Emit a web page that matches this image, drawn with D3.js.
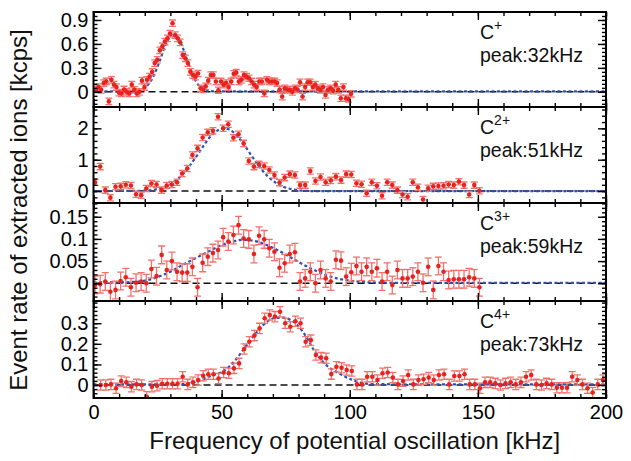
<!DOCTYPE html>
<html>
<head>
<meta charset="utf-8">
<title>Event rate of extracted ions</title>
<script src="https://d3js.org/d3.v7.min.js"></script>
<style>
body { margin: 0; background: #fff; }
svg { display: block; font-family: "Liberation Sans", Arial, sans-serif; }
</style>
</head>
<body>
<svg id="chart" width="631" height="461"></svg>
<script>
// ---- data ----
const xTicks = [0, 50, 100, 150, 200];

// C+  (scan 1 .. 100.5 kHz)
const ion1 = '+', peak1 = 32;
const start1 = 1, step1 = 0.995, err1 = 0.04;
const rate1 = [0.03,0.06,0.025,0.11,0.13,-0.12,0.15,0.09,0.06,-0.01,
  -0.02,0.03,0.0,-0.02,0.09,0.025,-0.02,0.0,0.14,0.06,
  0.15,0.19,0.25,0.36,0.40,0.52,0.57,0.63,0.67,0.73,
  0.86,0.71,0.67,0.62,0.46,0.42,0.36,0.25,0.21,0.19,
  0.23,0.045,0.03,0.07,0.14,0.21,0.21,0.13,0.02,0.13,
  0.09,0.11,0.06,0.13,0.225,0.24,0.13,0.15,0.21,0.19,
  0.17,0.13,0.09,0.06,0.13,0.13,-0.02,0.15,0.13,0.13,
  0.13,0.11,0.03,-0.06,0.045,0.03,0.025,0.0,0.045,0.03,
  0.12,-0.06,0.06,0.12,0.12,0.06,0.09,0.045,0.025,0.06,
  -0.04,0.025,0.045,0.015,0.09,0.025,-0.08,0.06,-0.08,-0.09,-0.025];
const fitF1 = [0, 14, 18, 20, 22, 24, 26, 28, 30, 31, 32, 34, 36, 38, 40, 42, 44, 48, 200];
const fitV1 = [0.005, 0.005, 0.02, 0.05, 0.12, 0.24, 0.40, 0.58, 0.70, 0.73, 0.72, 0.62, 0.45, 0.27, 0.13, 0.05, 0.015, 0.005, 0.005];
const yDomain1 = [-0.19, 1.0];
const yTicks1 = [0, 0.3, 0.6, 0.9];

// C2+
const ion2 = '2+', peak2 = 51;
const start2 = 0.6, step2 = 2, err2 = 0.1;
const rate2 = [0.28,0.78,0.03,-0.21,0.14,0.15,0.2,0.18,-0.1,-0.13,
  0.08,0.24,0.21,0.03,0.18,0.21,0.28,0.56,0.72,1.15,
  1.36,1.71,1.87,1.92,2.37,2.0,2.13,1.7,1.81,1.52,
  0.96,0.78,0.85,0.8,0.67,0.51,0.27,0.43,0.54,0.51,
  0.19,0.19,0.64,0.32,0.45,0.28,0.34,0.46,0.35,0.54,
  0.53,0.25,0.22,-0.07,0.28,0.17,-0.15,0.28,0.19,0.03,
  -0.11,-0.18,0.28,0.12,-0.27,0.09,0.15,0.16,0.17,0.21,
  0.19,0.3,0.19,-0.11,0.19,0.01];
const fitF2 = [0, 20, 24, 28, 31, 34, 37, 40, 43, 46, 49, 51, 53, 56, 59, 62, 65, 68, 71, 74, 78, 82, 86, 200];
const fitV2 = [0, 0.01, 0.05, 0.14, 0.27, 0.47, 0.75, 1.09, 1.45, 1.77, 1.96, 2.0, 1.96, 1.77, 1.45, 1.09, 0.75, 0.47, 0.27, 0.14, 0.05, 0.01, 0, 0];
const yDomain2 = [-0.38, 2.68];
const yTicks2 = [0, 1, 2];

// C3+
const ion3 = '3+', peak3 = 59;
const start3 = 0.6, step3 = 2, err3 = 0.02;
const rate3 = [-0.004,-0.002,0.004,-0.019,-0.015,0.005,0.0135,-0.009,0.001,0.004,
  0.0,0.032,0.016,0.064,0.03,0.05,0.026,0.024,0.024,0.037,
  -0.009,0.046,0.06,0.068,0.075,0.104,0.094,0.109,0.131,0.101,
  0.099,0.066,0.107,0.099,0.079,0.071,0.035,0.045,0.066,0.07,
  0.004,0.011,0.026,0.0,0.03,0.011,0.004,0.053,0.051,0.015,
  0.025,0.039,0.026,0.037,0.026,0.034,0.004,0.026,-0.004,0.03,
  0.011,0.011,0.015,0.026,0.001,0.037,-0.015,0.039,0.026,0.0075,
  0.009,0.009,0.009,0.0135,0.011,-0.009];
const fitF3 = [0, 10, 15, 20, 25, 30, 35, 40, 45, 50, 55, 58, 61, 65, 70, 75, 80, 85, 90, 95, 100, 108, 120, 200];
const fitV3 = [0.002, 0.002, 0.003, 0.006, 0.014, 0.026, 0.042, 0.057, 0.072, 0.086, 0.095, 0.098, 0.097, 0.092, 0.080, 0.065, 0.048, 0.033, 0.020, 0.011, 0.006, 0.002, 0.001, 0.001];
const yDomain3 = [-0.04, 0.181];
const yTicks3 = [0, 0.05, 0.1, 0.15];

// C4+
const ion4 = '4+', peak4 = 73;
const start4 = 2.8, step4 = 2, err4 = 0.025;
const rate4 = [0,0,0.003,-0.016,0.019,0.013,-0.008,0.003,0,-0.057,
  -0.008,-0.003,0.006,0.006,0.006,0.006,0.04,0.003,0.013,0.024,
  0.045,0.052,0.052,0.032,0.061,0.057,0.081,0.105,0.175,0.21,
  0.24,0.275,0.324,0.34,0.332,0.356,0.3,0.283,0.31,0.3,
  0.21,0.218,0.146,0.133,0.13,0.053,0.089,0.084,0.073,0.068,0.003,
  0.003,0.04,0.04,0.024,0.057,0.061,0.036,0.003,0.019,0.049,
  0.003,0.024,0.028,0.036,0.024,0.049,0.052,0.003,0.044,0.044,
  0.052,0.003,0.003,-0.016,0.013,0.013,0.008,0,0.008,0.013,
  0.003,0.013,0.04,0.049,0.003,0,0.008,0.003,-0.013,-0.013,
  -0.013,0.04,0.024,0.003,-0.016,-0.036,0.003,0.024];
const fitF4 = [0, 34, 38, 42, 46, 50, 53, 56, 59, 62, 65, 68, 71, 74, 77, 80, 83, 86, 89, 92, 96, 100, 104, 110, 200];
const fitV4 = [0.003, 0.004, 0.01, 0.025, 0.045, 0.063, 0.09, 0.13, 0.18, 0.23, 0.275, 0.31, 0.326, 0.327, 0.315, 0.285, 0.235, 0.17, 0.12, 0.085, 0.055, 0.03, 0.012, 0.004, 0.003];
const yDomain4 = [-0.063, 0.408];
const yTicks4 = [0, 0.1, 0.2, 0.3];

// ---- layout ----
const left = 93.5, right = 606;
const edges = [12, 107, 203, 301, 398];
const minorStep = [0.05, 0.2, 0.01, 0.02];

const panels = [
  {ion: ion1, peak: peak1, start: start1, step: step1, err: err1, rate: rate1, fitF: fitF1, fitV: fitV1, dom: yDomain1, ticks: yTicks1},
  {ion: ion2, peak: peak2, start: start2, step: step2, err: err2, rate: rate2, fitF: fitF2, fitV: fitV2, dom: yDomain2, ticks: yTicks2},
  {ion: ion3, peak: peak3, start: start3, step: step3, err: err3, rate: rate3, fitF: fitF3, fitV: fitV3, dom: yDomain3, ticks: yTicks3},
  {ion: ion4, peak: peak4, start: start4, step: step4, err: err4, rate: rate4, fitF: fitF4, fitV: fitV4, dom: yDomain4, ticks: yTicks4}
];

const svg = d3.select('#chart');
svg.append('rect').attr('width', 631).attr('height', 461).attr('fill', '#fff');

const x = d3.scaleLinear().domain([0, 200]).range([left, right]);
const xMinor = d3.range(0, 201, 10);

function styleAxis(g) {
  g.select('.domain').remove();
  g.selectAll('.tick line').attr('stroke', '#000').attr('stroke-width', 1.4);
  g.selectAll('text').attr('font-family', '"Liberation Sans", Arial, sans-serif').attr('font-size', 20).attr('fill', '#000');
}

panels.forEach((p, i) => {
  const top = edges[i], bot = edges[i + 1];
  const y = d3.scaleLinear().domain(p.dom).range([bot, top]);
  const g = svg.append('g');

  g.append('clipPath').attr('id', 'clip' + i)
    .append('rect').attr('x', left).attr('y', top).attr('width', right - left).attr('height', bot - top);
  const plot = g.append('g').attr('clip-path', 'url(#clip' + i + ')');

  // zero line
  plot.append('line')
    .attr('x1', x(0)).attr('x2', x(200)).attr('y1', y(0)).attr('y2', y(0))
    .attr('stroke', '#111').attr('stroke-width', 1.5).attr('stroke-dasharray', '7,4');

  // fit curve
  const fit = p.fitF.map((f, j) => [f, p.fitV[j]]);
  plot.append('path').datum(fit)
    .attr('fill', 'none').attr('stroke', '#2f4fb8').attr('stroke-width', 2.2)
    .attr('stroke-dasharray', '3,2.5')
    .attr('d', d3.line().x(d => x(d[0])).y(d => y(d[1])).curve(d3.curveMonotoneX));

  // data points with error bars
  const pts = p.rate.map((v, j) => [p.start + j * p.step, v]);
  const bars = plot.append('g').attr('stroke', '#f2716b').attr('stroke-width', 1.3);
  bars.selectAll('.eb').data(pts).enter().append('line')
    .attr('x1', d => x(d[0])).attr('x2', d => x(d[0]))
    .attr('y1', d => y(d[1] - p.err)).attr('y2', d => y(d[1] + p.err));
  bars.selectAll('.cl').data(pts).enter().append('line')
    .attr('x1', d => x(d[0]) - 3.5).attr('x2', d => x(d[0]) + 3.5)
    .attr('y1', d => y(d[1] - p.err)).attr('y2', d => y(d[1] - p.err));
  bars.selectAll('.ch').data(pts).enter().append('line')
    .attr('x1', d => x(d[0]) - 3.5).attr('x2', d => x(d[0]) + 3.5)
    .attr('y1', d => y(d[1] + p.err)).attr('y2', d => y(d[1] + p.err));
  plot.selectAll('circle').data(pts).enter().append('circle')
    .attr('cx', d => x(d[0])).attr('cy', d => y(d[1])).attr('r', 2.3)
    .attr('fill', '#e8231f');

  // y axes (ticks inward, left + right)
  const yMinor = d3.range(Math.ceil(p.dom[0] / minorStep[i]) * minorStep[i], p.dom[1], minorStep[i]);
  g.append('g').attr('transform', 'translate(' + left + ',0)')
    .call(d3.axisLeft(y).tickValues(yMinor).tickSize(-4).tickFormat('')).call(styleAxis);
  g.append('g').attr('transform', 'translate(' + left + ',0)')
    .call(d3.axisLeft(y).tickValues(p.ticks).tickSize(-8).tickPadding(5).tickFormat(d => String(d))).call(styleAxis);
  g.append('g').attr('transform', 'translate(' + right + ',0)')
    .call(d3.axisRight(y).tickValues(yMinor).tickSize(-4).tickFormat('')).call(styleAxis);
  g.append('g').attr('transform', 'translate(' + right + ',0)')
    .call(d3.axisRight(y).tickValues(p.ticks).tickSize(-8).tickFormat('')).call(styleAxis);

  // x axes (top + bottom of every panel)
  g.append('g').attr('transform', 'translate(0,' + top + ')')
    .call(d3.axisTop(x).tickValues(xMinor).tickSize(-4).tickFormat('')).call(styleAxis);
  g.append('g').attr('transform', 'translate(0,' + top + ')')
    .call(d3.axisTop(x).tickValues(xTicks).tickSize(-8).tickFormat('')).call(styleAxis);
  g.append('g').attr('transform', 'translate(0,' + bot + ')')
    .call(d3.axisBottom(x).tickValues(xMinor).tickSize(-4).tickFormat('')).call(styleAxis);
  g.append('g').attr('transform', 'translate(0,' + bot + ')')
    .call(d3.axisBottom(x).tickValues(xTicks).tickSize(-8).tickPadding(7)
      .tickFormat(i === 3 ? d => String(d) : '')).call(styleAxis);

  // frame
  g.append('rect').attr('x', left).attr('y', top).attr('width', right - left).attr('height', bot - top)
    .attr('fill', 'none').attr('stroke', '#000').attr('stroke-width', 2);

  // label
  const lab = g.append('text').attr('x', 480).attr('y', top + 27).attr('font-size', 19.5).attr('fill', '#111');
  lab.append('tspan').text('C');
  lab.append('tspan').attr('dy', -9).attr('font-size', 14).text(p.ion);
  g.append('text').attr('x', 480).attr('y', top + 50).attr('font-size', 19.5).attr('fill', '#111')
    .text('peak:' + p.peak + 'kHz');
});

svg.append('text')
  .attr('x', (left + right) / 2 + 5).attr('y', 449)
  .attr('text-anchor', 'middle').attr('font-size', 24).attr('fill', '#111')
  .text('Frequency of potential oscillation [kHz]');

svg.append('text')
  .attr('transform', 'translate(27,' + ((edges[0] + edges[4]) / 2 + 5) + ') rotate(-90)')
  .attr('text-anchor', 'middle').attr('font-size', 24).attr('fill', '#111')
  .text('Event rate of extracted ions [kcps]');
</script>
</body>
</html>
